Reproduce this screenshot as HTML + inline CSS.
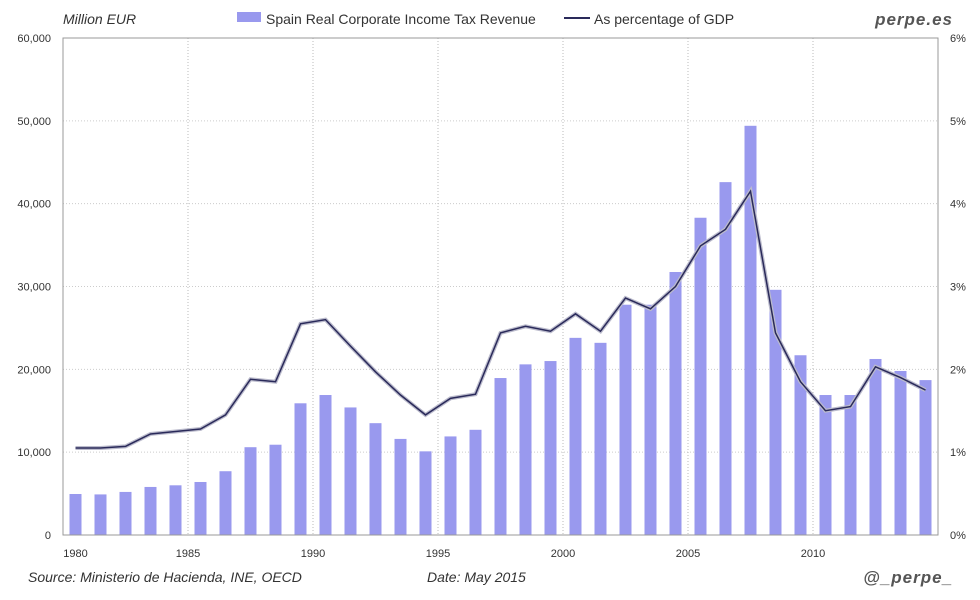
<!DOCTYPE html>
<html><head><meta charset="utf-8"><style>
body{margin:0;background:#fff;font-family:"Liberation Sans",sans-serif;}
svg{display:block}
</style></head><body>
<svg id="chart" width="980" height="600">
<rect x="0" y="0" width="980" height="600" fill="#fff"/>
<g id="grid"></g><g id="bars"></g><g id="lines"></g><g id="axes"></g>
<text x="63" y="24" font-size="14" font-style="italic" fill="#333">Million EUR</text>
<rect x="237" y="12" width="24" height="10" fill="#9999ee"/>
<text x="266" y="24" font-size="14" fill="#333">Spain Real Corporate Income Tax Revenue</text>
<line x1="564" y1="18" x2="590" y2="18" stroke="#2a2a5a" stroke-width="2"/>
<text x="594" y="24" font-size="14" fill="#333">As percentage of GDP</text>
<text x="953" y="25" font-size="17" font-style="italic" font-weight="bold" fill="#555" text-anchor="end" letter-spacing="1">perpe.es</text>
<text x="28" y="582" font-size="14" font-style="italic" fill="#333">Source: Ministerio de Hacienda, INE, OECD</text>
<text x="427" y="582" font-size="14" font-style="italic" fill="#333">Date: May 2015</text>
<text x="953" y="583" font-size="17" font-style="italic" font-weight="bold" fill="#555" text-anchor="end" letter-spacing="1">@_perpe_</text>
</svg>
<script>
const years=[1980,1981,1982,1983,1984,1985,1986,1987,1988,1989,1990,1991,1992,1993,1994,1995,1996,1997,1998,1999,2000,2001,2002,2003,2004,2005,2006,2007,2008,2009,2010,2011,2012,2013,2014];
const revenue=[4950,4900,5200,5800,6000,6400,7700,10600,10900,15900,16900,15400,13500,11600,10100,11900,12700,18950,20600,21000,23800,23200,27800,27800,31750,38300,42600,49400,29600,21700,16900,16900,21250,19800,18700];
const pctGdp=[1.05,1.05,1.07,1.22,1.25,1.28,1.45,1.88,1.85,2.55,2.6,2.28,1.97,1.69,1.45,1.65,1.70,2.44,2.52,2.46,2.67,2.46,2.86,2.73,3.0,3.49,3.69,4.15,2.44,1.85,1.50,1.55,2.03,1.9,1.75];
const leftTicks=[0,10000,20000,30000,40000,50000,60000];
const rightTicks=[0,1,2,3,4,5,6];
const xLabels=[1980,1985,1990,1995,2000,2005,2010];
const NS="http://www.w3.org/2000/svg";
const L=63,R=938,T=38,B=535,step=(R-L)/years.length;
const xc=i=>L+step*(i+0.5);
const yL=v=>B-v/60000*(B-T);
const yR=v=>B-v/6*(B-T);
function mk(tag,attrs,parent,txt){const e=document.createElementNS(NS,tag);for(const k in attrs)e.setAttribute(k,attrs[k]);if(txt!==undefined)e.textContent=txt;document.getElementById(parent).appendChild(e);return e;}
leftTicks.forEach((t,i)=>{
 const g=mk('line',{x1:L,x2:R,y1:yL(t),y2:yL(t),stroke:'#ccc','stroke-dasharray':'1,2'},'grid');
 
 
 const a=mk('text',{x:L-12,y:yL(t)+4,'font-size':11,'text-anchor':'end',fill:'#333'},'axes',t.toLocaleString('en-US'));
 
 
 const b=mk('text',{x:R+12,y:yR(rightTicks[i])+4,'font-size':11,fill:'#333'},'axes',rightTicks[i]+'%');
 
 
});
xLabels.forEach(y=>{
 const i=years.indexOf(y);
 const x=y===1980?xc(0):L+step*i-0.5*step+step*0.5;
 const gx=L+step*i-step*0.5+step*0.5;
 if(y!==1980){
  const g=mk('line',{x1:xc(i)-step/2,x2:xc(i)-step/2,y1:T,y2:B,stroke:'#bbb','stroke-dasharray':'1,2'},'grid');
  
  
 }
 const lx=y===1980?xc(0):xc(i)-step/2;
 const t=mk('text',{x:lx,y:B+22,'font-size':11,'text-anchor':'middle',fill:'#333'},'axes',String(y));
 
 
});
const fr=mk('rect',{x:L,y:T,width:R-L,height:B-T,fill:'none',stroke:'#999'},'axes');


revenue.forEach((v,i)=>{
 const r=mk('rect',{x:xc(i)-6,y:yL(v),width:12,height:B-yL(v),fill:'#9999ee'},'bars');
 
 
});
const pts=pctGdp.map((v,i)=>xc(i)+','+yR(v)).join(' ');
const sh=mk('polyline',{points:pts,fill:'none',stroke:'#bbbbcc','stroke-width':4},'lines');


const pl=mk('polyline',{points:pts,fill:'none',stroke:'#2a2a5a','stroke-width':1.5},'lines');


</script>
</body></html>
